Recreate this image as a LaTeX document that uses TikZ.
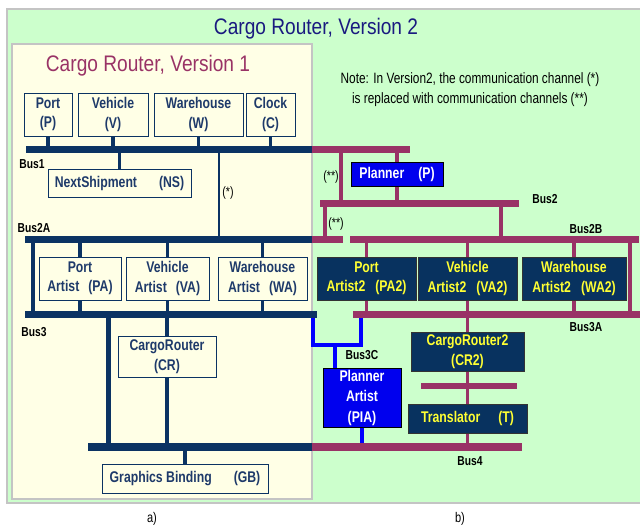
\documentclass[tikz,border=0pt]{standalone}
\usepackage{fontspec}
\setmainfont{Liberation Sans}[FakeStretch=0.85]
\newfontfamily\narrowf{Liberation Sans}[FakeStretch=0.79]
\definecolor{navy}{HTML}{0B3363}
\definecolor{maroon}{HTML}{993366}
\definecolor{bggreen}{HTML}{CCFFCC}
\definecolor{cream}{HTML}{FFFFE6}
\definecolor{titlenavy}{HTML}{1A1A80}
\definecolor{v1title}{HTML}{993366}
\definecolor{boxnavy}{HTML}{08325F}
\definecolor{ytext}{HTML}{FFFF33}
\definecolor{pblue}{HTML}{0000EE}
\definecolor{bblue}{HTML}{0000FF}
\definecolor{frame}{HTML}{C4C4C4}
\definecolor{v1text}{HTML}{1E3A6A}
\begin{document}
\begin{tikzpicture}[x=1pt,y=-1pt,
  nbus/.style={line width=7pt,draw=navy},
  mbus/.style={line width=7pt,draw=maroon},
  nconn/.style={line width=3.2pt,draw=navy},
  mconn/.style={line width=3.2pt,draw=maroon},
  bconn/.style={line width=3.2pt,draw=bblue},
  v1box/.style={draw=navy,line width=1pt,fill=cream,text=v1text,align=center,inner sep=0pt,
    font=\narrowf\bfseries\fontsize{15.5}{19.5}\selectfont},
  v2box/.style={draw=black!80,line width=1pt,fill=boxnavy,text=ytext,align=center,inner sep=0pt,
    font=\narrowf\bfseries\fontsize{15.5}{19.5}\selectfont},
  pbox/.style={draw=black,line width=1pt,fill=pblue,text=white,align=center,inner sep=0pt,
    font=\narrowf\bfseries\fontsize{15.5}{20.5}\selectfont},
  buslbl/.style={text=black,font=\narrowf\bfseries\fontsize{13}{14}\selectfont,inner sep=0pt},
  chlbl/.style={text=black,font=\narrowf\fontsize{13.5}{14}\selectfont,inner sep=0pt},
]
\useasboundingbox (0,0) rectangle (640,527);
\fill[white] (0,0) rectangle (640,527);
% frames
\draw[draw=frame,line width=1.5pt,fill=bggreen] (7,9) rectangle (645,503);
\draw[draw=frame,line width=1.2pt,fill=cream] (12,44) rectangle (312,499);

% titles
\node[text=titlenavy,font=\fontsize{22.5}{24}\selectfont] (t2) at (316,29) {Cargo Router, Version 2};
\node[text=v1title,font=\fontsize{22.5}{24}\selectfont] (t1) at (148,66) {Cargo Router, Version 1};
\node[text=black,font=\narrowf\fontsize{15}{20}\selectfont,align=center] (note) at (470,90)
  {Note: In Version2, the communication channel (*)\\is replaced with communication channels (**)};

% bus coordinates
\coordinate (b1) at (26,149.5);
\coordinate (b2) at (320,203.5);
\coordinate (b2a) at (25,239.5);
\coordinate (b2b) at (350,239.5);
\coordinate (b3) at (25,314);
\coordinate (b3a) at (353,314);
\coordinate (b3c) at (313,345);
\coordinate (b4) at (88,447);
\coordinate (bs) at (421,386);

% version 1 boxes
\node[v1box,minimum width=48pt,minimum height=43pt] (port) at (48,114.5) {Port\\(P)};
\node[v1box,minimum width=70pt,minimum height=43pt] (veh) at (113,114.5) {Vehicle\\(V)};
\node[v1box,minimum width=89pt,minimum height=43pt] (wh) at (198.5,114.5) {Warehouse\\(W)};
\node[v1box,minimum width=49pt,minimum height=43pt] (clk) at (270.5,114.5) {Clock\\(C)};
\node[v1box,minimum width=143pt,minimum height=28pt] (ns) at (119.5,183) {NextShipment\hspace{22pt}(NS)};
\node[v1box,minimum width=82pt,minimum height=43pt] (pa) at (80,278.5) {Port\\Artist\hspace{9pt}(PA)};
\node[v1box,minimum width=83pt,minimum height=43pt] (va) at (167.5,278.5) {Vehicle\\Artist\hspace{9pt}(VA)};
\node[v1box,minimum width=89pt,minimum height=43pt] (wa) at (262.5,278.5) {Warehouse\\Artist\hspace{9pt}(WA)};
\node[v1box,minimum width=98pt,minimum height=41pt] (cr) at (167,356.5) {CargoRouter\\(CR)};
\node[v1box,minimum width=166pt,minimum height=29pt] (gb) at (185,478.5) {Graphics Binding\hspace{22pt}(GB)};

% version 2 boxes
\node[pbox,minimum width=92pt,minimum height=24pt] (pl) at (397,174) {Planner\hspace{14pt}(P)};
\node[v2box,minimum width=99pt,minimum height=43pt] (pa2) at (366.5,278.5) {Port\\Artist2\hspace{10pt}(PA2)};
\node[v2box,minimum width=99pt,minimum height=43pt] (va2) at (467.5,278.5) {Vehicle\\Artist2\hspace{10pt}(VA2)};
\node[v2box,minimum width=104pt,minimum height=43pt] (wa2) at (574,278.5) {Warehouse\\Artist2\hspace{10pt}(WA2)};
\node[v2box,minimum width=113pt,minimum height=39pt] (cr2) at (467.5,351.5) {CargoRouter2\\(CR2)};
\node[v2box,minimum width=119pt,minimum height=29pt] (tr) at (467.5,418.5) {Translator\hspace{18pt}(T)};
\node[pbox,minimum width=78pt,minimum height=59pt] (pia) at (362,397.5) {Planner\\Artist\\(PIA)};

% version 1 connectors
\foreach \n in {port,veh,wh,clk} \draw[nconn] (\n.south) -- (\n.south |- b1);
\draw[nconn] (ns.north) -- (ns.north |- b1);
\coordinate (s1) at (219,149.5);
\draw[line width=2pt,draw=navy] (s1) -- (s1 |- b2a);
\foreach \n in {pa,va,wa} {
  \draw[nconn] (\n.north) -- (\n.north |- b2a);
  \draw[nconn] (\n.south) -- (\n.south |- b3);
}
\coordinate (lv) at (33,239.5);
\draw[line width=4pt,draw=navy] (lv) -- (lv |- b3);
\coordinate (bv) at (108,314);
\draw[line width=5pt,draw=navy] (bv) -- (bv |- b4);
\draw[nconn] (cr.north) -- (cr.north |- b3);
\draw[nconn] (cr.south) -- (cr.south |- b4);
\draw[nconn] (gb.north) -- (gb.north |- b4);

% version 2 connectors
\draw[mconn] (pl.north) -- (pl.north |- b1);
\draw[mconn] (pl.south) -- (pl.south |- b2);
\coordinate (c1) at (341,149.5);
\draw[mconn] (c1) -- (c1 |- b2);
\coordinate (c2) at (325,203.5);
\draw[mconn] (c2) -- (c2 |- b2a);
\coordinate (c3) at (501,203.5);
\draw[mconn] (c3) -- (c3 |- b2b);
\foreach \n in {pa2,va2,wa2} {
  \draw[mconn] (\n.north) -- (\n.north |- b2b);
  \draw[mconn] (\n.south) -- (\n.south |- b3a);
}
\coordinate (c4) at (630,239.5);
\draw[mconn] (c4) -- (c4 |- b3a);
\draw[mconn] (cr2.north) -- (cr2.north |- b3a);
\draw[mconn] (cr2.south) -- (tr.north);
\draw[mconn] (tr.south) -- (tr.south |- b4);
% Bus3C (blue)
\coordinate (c5) at (313,314);
\coordinate (c6) at (361,314);
\draw[line width=3.5pt,draw=bblue] (c5) -- (313,345) -- (363,345);
\draw[line width=3.5pt,draw=bblue] (c6) -- (c6 |- b3c);
\draw[bconn] (pia.north -| 335,0) -- (335,345);
\draw[bconn] (pia.south) -- (pia.south |- b4);

% buses
\draw[nbus] (b1) -- (312,149.5);
\draw[mbus] (312,149.5) -- (410,149.5);
\draw[mbus] (b2) -- (519,203.5);
\draw[nbus] (b2a) -- (312,239.5);
\draw[mbus] (312,239.5) -- (343,239.5);
\draw[mbus] (b2b) -- (639,239.5);
\draw[nbus] (b3) -- (317,314);
\draw[mbus] (b3a) -- (641,314);
\draw[line width=8pt,draw=navy] (b4) -- (312,447);
\draw[line width=8pt,draw=maroon] (312,447) -- (522,447);
\draw[line width=6pt,draw=maroon] (bs) -- (517,386);

% labels
\node[buslbl] (lb1) at (32,164) {Bus1};
\node[buslbl] (lb2a) at (34,228) {Bus2A};
\node[buslbl] (lb3) at (34,332) {Bus3};
\node[buslbl] (lb2) at (545,199) {Bus2};
\node[buslbl] (lb2b) at (586,229) {Bus2B};
\node[buslbl] (lb3a) at (586,327) {Bus3A};
\node[buslbl] (lb3c) at (362,355) {Bus3C};
\node[buslbl] (lb4) at (470,461) {Bus4};
\node[chlbl] (st1) at (228,193) {(*)};
\node[chlbl] (st2) at (331,177) {(**)};
\node[chlbl] (st3) at (336,224) {(**)};
\node[text=black,font=\narrowf\fontsize{14}{15}\selectfont] (la) at (152,519) {a)};
\node[text=black,font=\narrowf\fontsize{14}{15}\selectfont] (lb) at (460,519) {b)};
\end{tikzpicture}
\end{document}
